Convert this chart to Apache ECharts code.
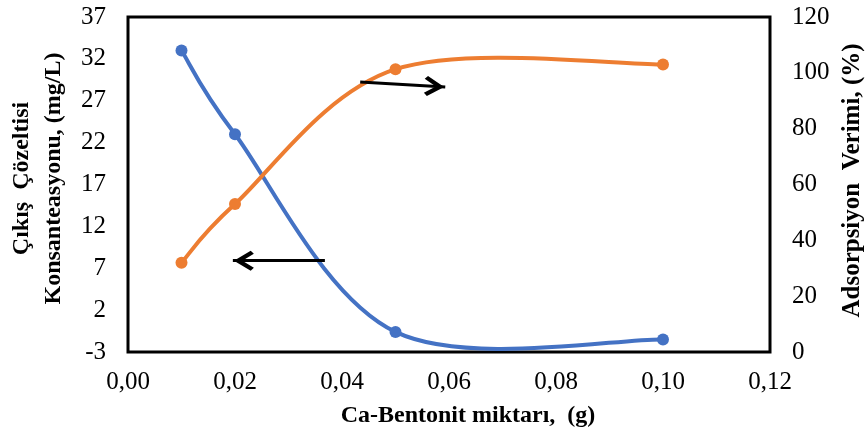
<!DOCTYPE html>
<html>
<head>
<meta charset="utf-8">
<script src="https://cdn.jsdelivr.net/npm/echarts@6/dist/echarts.min.js"></script>
<style>
  html, body { margin: 0; padding: 0; background: #fff; }
  #chart { width: 865px; height: 432px; }
</style>
</head>
<body>
<div id="chart"></div>
<script>
  // Ca-Bentonit miktarı (g)
  const bentonite = [0.01, 0.02, 0.05, 0.10];
  // çıkış çözeltisi konsantrasyonu (mg/L), sol eksen
  const concentration = [33, 23, -0.6, -1.5];
  // adsorpsiyon verimi (%), sağ eksen
  const efficiency = [32, 53, 101.3, 103];

  // ok işaretleri (veri koordinatlarında)
  const leftArrow = [[0.0368, 7.9], [0.0196, 7.9]];
  const rightArrow = [[0.0434, 96.7], [0.0593, 94.9]];

  const serif = '"Liberation Serif", "Times New Roman", serif';
  const BLUE = '#4472C4';
  const ORANGE = '#ED7D31';
  // ucu ortada kalan açık ok başı
  const chevron = 'path://M10,-21M10,0L20,16L17,19L10,8L3,19L0,16Z';

  const toPairs = (ys) => bentonite.map((x, i) => [x, ys[i]]);

  // Excel tarzı yumuşatma: nokta komşularından Bezier kontrol noktaları
  const smoothRender = (ys, color) => (params, api) => {
    const i = params.dataIndex;
    const n = bentonite.length;
    if (i >= n - 1) return null;
    const p = bentonite.map((x, k) => api.coord([x, ys[k]]));
    const p0 = p[Math.max(i - 1, 0)];
    const p1 = p[i];
    const p2 = p[i + 1];
    const p3 = p[Math.min(i + 2, n - 1)];
    const c1 = [p1[0] + (p2[0] - p0[0]) / 6, p1[1] + (p2[1] - p0[1]) / 6];
    const c2 = [p2[0] - (p3[0] - p1[0]) / 6, p2[1] - (p3[1] - p1[1]) / 6];
    return {
      type: 'path',
      shape: {
        pathData: `M${p1[0]},${p1[1]}C${c1[0]},${c1[1]} ${c2[0]},${c2[1]} ${p2[0]},${p2[1]}`,
      },
      style: { fill: 'none', stroke: color, lineWidth: 4, lineCap: 'round' },
    };
  };

  const arrowLine = (pts) => ({
    silent: true,
    animation: false,
    symbol: ['none', chevron],
    symbolSize: [20, 42],
    label: { show: false },
    lineStyle: { color: '#000', width: 3, type: 'solid' },
    itemStyle: { color: '#000' },
    emphasis: { disabled: true },
    data: [[{ coord: pts[0] }, { coord: pts[1] }]],
  });

  const chart = echarts.init(document.getElementById('chart'));
  chart.setOption({
    animation: false,
    grid: {
      left: 128,
      right: 95,
      top: 17,
      bottom: 80,
      outerBoundsMode: 'none',
      show: true,
      borderColor: '#000',
      borderWidth: 3,
    },
    xAxis: {
      type: 'value',
      min: 0,
      max: 0.12,
      interval: 0.02,
      name: 'Ca-Bentonit miktarı,  (g)',
      nameLocation: 'middle',
      nameGap: 52,
      nameTextStyle: { fontFamily: serif, fontWeight: 'bold', fontSize: 24, color: '#000', padding: [0, 0, 0, 38] },
      axisLine: { show: false },
      axisTick: { show: false },
      splitLine: { show: false },
      axisLabel: {
        margin: 18,
        fontFamily: serif,
        fontSize: 25,
        color: '#000',
        formatter: (v) => v.toFixed(2).replace('.', ','),
      },
    },
    yAxis: [
      {
        type: 'value',
        min: -3,
        max: 37,
        interval: 5,
        name: 'Çıkış  Çözeltisi\nKonsanteasyonu, (mg/L)',
        nameLocation: 'middle',
        nameRotate: 90,
        nameGap: 58,
        nameTextStyle: { fontFamily: serif, fontWeight: 'bold', fontSize: 24, color: '#000', lineHeight: 32, padding: [0, 0, 0, 12] },
        axisLine: { show: false },
        axisTick: { show: false },
        splitLine: { show: false },
        axisLabel: { margin: 22, fontFamily: serif, fontSize: 25, color: '#000' },
      },
      {
        type: 'value',
        min: 0,
        max: 120,
        interval: 20,
        name: 'Adsorpsiyon  Verimi, (%)',
        nameLocation: 'middle',
        nameRotate: 90,
        nameGap: 68,
        nameTextStyle: { fontFamily: serif, fontWeight: 'bold', fontSize: 25, color: '#000', padding: [0, 0, 0, 8] },
        axisLine: { show: false },
        axisTick: { show: false },
        splitLine: { show: false },
        axisLabel: { margin: 22, fontFamily: serif, fontSize: 25, color: '#000' },
      },
    ],
    series: [
      {
        name: 'Konsantrasyon eğrisi',
        type: 'custom',
        yAxisIndex: 0,
        clip: true,
        silent: true,
        data: toPairs(concentration),
        renderItem: smoothRender(concentration, BLUE),
        z: 2,
      },
      {
        name: 'Verim eğrisi',
        type: 'custom',
        yAxisIndex: 1,
        clip: true,
        silent: true,
        data: toPairs(efficiency),
        renderItem: smoothRender(efficiency, ORANGE),
        z: 2,
      },
      {
        name: 'Konsantrasyon',
        type: 'line',
        yAxisIndex: 0,
        data: toPairs(concentration),
        symbol: 'circle',
        symbolSize: 12,
        itemStyle: { color: BLUE },
        lineStyle: { width: 0, opacity: 0 },
        z: 3,
        markLine: arrowLine(leftArrow),
      },
      {
        name: 'Verim',
        type: 'line',
        yAxisIndex: 1,
        data: toPairs(efficiency),
        symbol: 'circle',
        symbolSize: 12,
        itemStyle: { color: ORANGE },
        lineStyle: { width: 0, opacity: 0 },
        z: 3,
        markLine: arrowLine(rightArrow),
      },
    ],
  });
</script>
</body>
</html>
